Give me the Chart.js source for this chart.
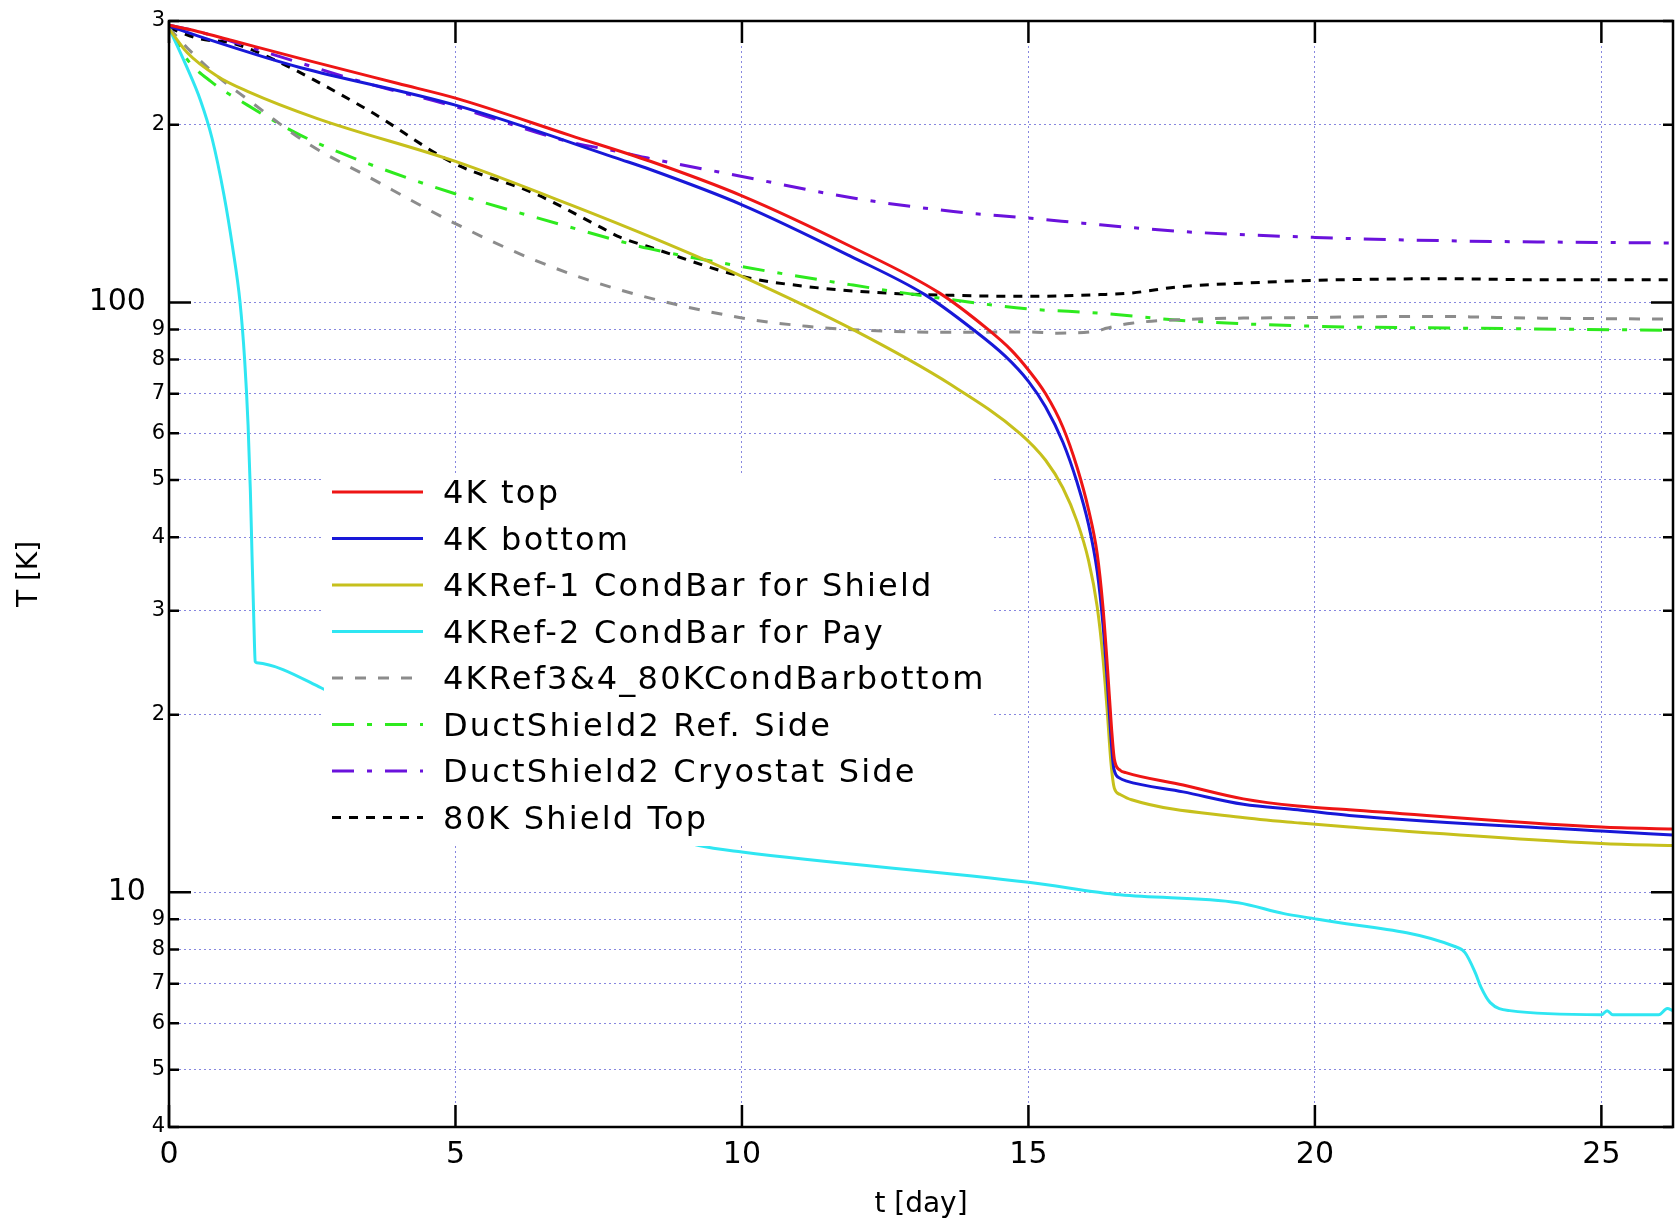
<!DOCTYPE html>
<html>
<head>
<meta charset="utf-8">
<script src="https://cdn.jsdelivr.net/npm/chart.js@4.4.1/dist/chart.umd.min.js"></script>
<style>
  html, body { margin: 0; padding: 0; background: #fff; }
  #wrap { width: 1675px; height: 1223px; }
</style>
</head>
<body>
<div id="wrap"><canvas id="cooldown-chart" width="1675" height="1223"></canvas></div>
<script>
// --- data (t in days, T in kelvin) ---
const xTicks = [0, 5, 10, 15, 20, 25];
const yTicks = [4, 5, 6, 7, 8, 9, 10, 20, 30, 40, 50, 60, 70, 80, 90, 100, 200, 300];

const tRed = [0, 0.5, 1.1, 2.3, 4.0, 5.0, 7.0, 8.4, 10.0, 11.9, 13.45, 14.3, 14.7, 15.0, 15.3, 15.6, 15.85, 16.05, 16.2, 16.3, 16.38, 16.45, 16.5, 16.6, 16.7, 17.7, 18.75, 19.7, 20.6, 25.0, 26.25];
const vRed = [295, 288, 278, 259, 235, 222, 192, 173.5, 151.6, 124.4, 103.7, 89.9, 83, 76.8, 70, 61.5, 52.5, 44.5, 37.5, 30.5, 24, 19, 16.8, 16.1, 15.95, 15.2, 14.4, 14.0, 13.8, 12.9, 12.8];

const tBlue = [0, 0.5, 1.72, 2.3, 5.0, 7.9, 8.4, 10.0, 11.9, 13.2, 14.0, 14.6, 15.0, 15.3, 15.6, 15.85, 16.05, 16.2, 16.3, 16.38, 16.44, 16.49, 16.6, 16.7, 17.7, 18.75, 19.7, 20.6, 25.0, 26.25];
const vBlue = [294, 283, 259.5, 250, 216, 174.5, 168, 146.4, 119.7, 103, 90.5, 81, 73.5, 66.5, 58, 49.5, 42, 35, 28.5, 22.5, 18.3, 16.2, 15.6, 15.45, 14.8, 14.1, 13.8, 13.5, 12.7, 12.5];

const tShield = [0, 0.32, 0.85, 1.37, 2.59, 5.0, 7.0, 8.5, 10.0, 11.94, 13.65, 14.85, 15.3, 15.6, 15.85, 16.05, 16.2, 16.3, 16.38, 16.44, 16.5, 16.6, 16.8, 18.7, 19.74, 20.6, 25.0, 26.25];
const vShield = [291, 265, 241.6, 228, 205, 173.4, 146.5, 128, 110.7, 89.9, 72.5, 60, 54, 48.5, 42.5, 36.5, 30.5, 25, 20, 16.6, 15.0, 14.65, 14.35, 13.4, 13.1, 12.9, 12.1, 12.0];

const tPay = [0, 0.3, 0.55, 0.75, 0.96, 1.11, 1.24, 1.32, 1.38, 1.42, 1.45, 1.48, 1.505, 1.53, 2.66, 4.5, 6.5, 9.25, 10.0, 15.0, 16.6, 18.66, 19.46, 20.05, 22.43, 22.62, 22.8, 22.9, 23.06, 23.4, 25.0, 25.1, 25.2, 26.0, 26.15, 26.25];
const vPay = [292, 252, 220, 190, 152, 124, 100, 80, 62, 48, 37, 29, 24.6, 24.5, 22.2, 17.5, 14.5, 12.0, 11.7, 10.4, 9.9, 9.6, 9.2, 9.0, 8.1, 7.9, 7.3, 6.9, 6.5, 6.3, 6.2, 6.3, 6.2, 6.2, 6.35, 6.3];

const tRef34 = [0, 0.32, 0.85, 1.37, 2.42, 3.47, 4.98, 6.38, 7.87, 10.0, 11.13, 11.94, 13.6, 15.0, 15.5, 16.25, 16.36, 16.8, 17.67, 20.0, 22.0, 23.7, 26.25];
const vRef34 = [292, 270, 241.6, 221, 186, 163.5, 136.3, 118, 105, 94.1, 91.1, 89.9, 89, 89.1, 88.7, 89.7, 90.4, 92.2, 93.5, 94.3, 94.7, 94.1, 93.7];

const tDuctRef = [0, 0.32, 0.73, 1.37, 2.3, 3.47, 4.98, 6.96, 7.87, 8.36, 10.0, 11.94, 13.45, 15.0, 16.25, 17.67, 20.0, 22.33, 26.25];
const vDuctRef = [292, 258, 237, 216, 192, 172, 153, 134.5, 127, 123.5, 115, 107, 101.7, 97.5, 95.9, 93.2, 91.1, 90.5, 89.7];

const tDuctCryo = [0, 0.5, 1.72, 3.47, 4.98, 6.96, 7.87, 8.36, 10.0, 11.94, 13.69, 15.0, 16.25, 17.67, 20.0, 22.33, 26.25];
const vDuctCryo = [295, 288, 265, 235, 215, 187.5, 180, 175.7, 163.5, 150.3, 142.6, 139, 135.4, 131.9, 128.9, 127.2, 126.1];

const t80K = [0, 0.53, 1.11, 1.72, 3.47, 4.98, 6.38, 7.54, 7.87, 8.36, 10.0, 11.13, 12.52, 13.69, 15.0, 16.25, 16.77, 17.67, 18.85, 20.0, 22.33, 23.72, 26.25];
const v80K = [292, 280, 275, 261, 212, 172, 153, 134, 129, 124.4, 110.7, 106.4, 103.7, 102.8, 102.4, 103.1, 103.7, 106.4, 107.9, 109, 109.7, 109.3, 109.3];

const FONT = '"DejaVu Sans", sans-serif';
const isDecade = v => Math.abs(Math.log10(v) - Math.round(Math.log10(v))) < 1e-9;
const pts = (ts, vs) => ts.map((t, i) => ({ x: t, y: vs[i] }));

const series = [
  { label: '4K top', t: tRed, v: vRed, color: '#ee1515', dash: [] },
  { label: '4K bottom', t: tBlue, v: vBlue, color: '#1818d8', dash: [] },
  { label: '4KRef-1 CondBar for Shield', t: tShield, v: vShield, color: '#c6c01c', dash: [] },
  { label: '4KRef-2 CondBar for Pay', t: tPay, v: vPay, color: '#2fe6f2', dash: [] },
  { label: '4KRef3&4_80KCondBarbottom', t: tRef34, v: vRef34, color: '#8c8c8c', dash: [11, 12] },
  { label: 'DuctShield2 Ref. Side', t: tDuctRef, v: vDuctRef, color: '#2eea1e', dash: [22, 13, 5, 13] },
  { label: 'DuctShield2 Cryostat Side', t: tDuctCryo, v: vDuctCryo, color: '#6a12dc', dash: [22, 13, 5, 13] },
  { label: '80K Shield Top', t: t80K, v: v80K, color: '#000000', dash: [9, 8] }
];

// inward ticks + closed frame, like the original plotting tool
const frameTicks = {
  id: 'frameTicks',
  afterDraw(chart) {
    const { ctx, chartArea: a, scales: { x, y } } = chart;
    ctx.save();
    ctx.strokeStyle = '#000';
    ctx.lineWidth = 2.5;
    ctx.beginPath();
    yTicks.forEach(v => {
      const py = y.getPixelForValue(v);
      const len = isDecade(v) ? 22 : 10;
      ctx.moveTo(a.left, py); ctx.lineTo(a.left + len, py);
      ctx.moveTo(a.right, py); ctx.lineTo(a.right - len, py);
    });
    xTicks.forEach(v => {
      const px = x.getPixelForValue(v);
      ctx.moveTo(px, a.bottom); ctx.lineTo(px, a.bottom - 22);
      ctx.moveTo(px, a.top); ctx.lineTo(px, a.top + 22);
    });
    ctx.stroke();
    ctx.strokeRect(a.left, a.top, a.right - a.left, a.bottom - a.top);
    ctx.restore();
  }
};

// legend box sitting inside the plot, on a white background
const insetLegend = {
  id: 'insetLegend',
  afterDatasetsDraw(chart) {
    const { ctx, chartArea: a } = chart;
    const left = a.left + 155, top = a.top + 455;
    ctx.save();
    ctx.fillStyle = '#fff';
    ctx.fillRect(left, top, 669, 370);
    ctx.font = '32px ' + FONT;
    ctx.letterSpacing = '2.2px';
    ctx.textBaseline = 'middle';
    chart.data.datasets.forEach((ds, i) => {
      const cy = top + 16 + i * 46.5;
      ctx.strokeStyle = ds.borderColor;
      ctx.lineWidth = 3;
      ctx.setLineDash(ds.borderDash || []);
      ctx.beginPath();
      ctx.moveTo(left + 8, cy);
      ctx.lineTo(left + 99, cy);
      ctx.stroke();
      ctx.setLineDash([]);
      ctx.fillStyle = '#000';
      ctx.fillText(ds.label, left + 119, cy + 3);
    });
    ctx.restore();
  }
};

const gridStyle = { color: 'rgba(105, 105, 215, 0.8)', lineWidth: 1, drawTicks: false };

new Chart(document.getElementById('cooldown-chart'), {
  type: 'line',
  data: {
    datasets: series.map(s => ({
      label: s.label,
      data: pts(s.t, s.v),
      borderColor: s.color,
      backgroundColor: s.color,
      borderDash: s.dash,
      borderWidth: 3,
      pointRadius: 0,
      cubicInterpolationMode: 'monotone',
      fill: false
    }))
  },
  options: {
    responsive: false,
    animation: false,
    layout: { padding: { top: 21, right: 2, left: 1, bottom: 0 } },
    plugins: { legend: { display: false }, tooltip: { enabled: false } },
    scales: {
      x: {
        type: 'linear',
        min: 0,
        max: 26.25,
        afterBuildTicks: s => { s.ticks = xTicks.map(v => ({ value: v })); },
        afterFit: s => { s.height = 96; },
        grid: gridStyle,
        border: { display: false, dash: [2, 3] },
        ticks: { color: '#000', padding: 10, maxRotation: 0, font: { family: FONT, size: 30 } },
        title: { display: true, text: 't [day]', color: '#000', padding: { top: 0, bottom: 1 }, font: { family: FONT, size: 28 } }
      },
      y: {
        type: 'logarithmic',
        min: 4,
        max: 300,
        afterBuildTicks: s => { s.ticks = yTicks.map(v => ({ value: v })); },
        afterFit: s => { s.width = 168; },
        grid: gridStyle,
        border: { display: false, dash: [2, 3] },
        ticks: {
          color: '#000',
          padding: 4,
          autoSkip: false,
          font: c => ({ family: FONT, size: isDecade(c.tick.value) ? 30 : 21 }),
          callback: v => {
            if (isDecade(v)) return v + '  ';
            return String(Math.round(v / Math.pow(10, Math.floor(Math.log10(v) + 1e-9))));
          }
        },
        title: { display: true, text: 'T [K]', color: '#000', padding: { top: 12, bottom: 0 }, font: { family: FONT, size: 28 } }
      }
    }
  },
  plugins: [insetLegend, frameTicks]
});
</script>
</body>
</html>
